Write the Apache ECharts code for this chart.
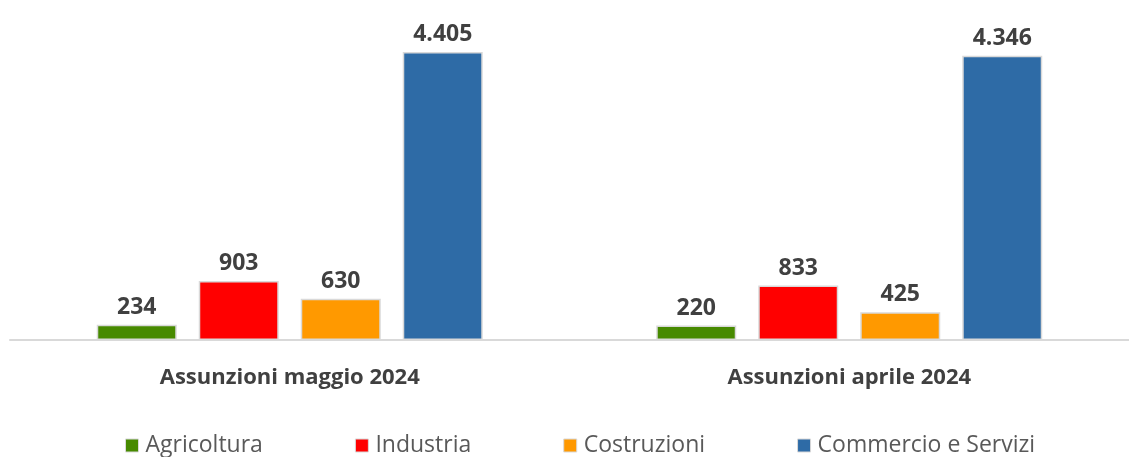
<!DOCTYPE html>
<html>
<head>
<meta charset="utf-8">
<script src="https://cdn.jsdelivr.net/npm/echarts@6/dist/echarts.min.js"></script>
<style>
  html, body { margin: 0; padding: 0; background: #fff; }
  #chart { width: 1129px; height: 457px; }
</style>
</head>
<body>
<div id="chart"></div>
<script>
// categorie (periodi)
const categories = ['Assunzioni maggio 2024', 'Assunzioni aprile 2024']
// settori
const agricoltura = [234, 220]
const industria = [903, 833]
const costruzioni = [630, 425]
const commercio = [4405, 4346]

const chart = echarts.init(document.getElementById('chart'))

// formato italiano: 4.405
function fmt(v) {
  return String(v).replace(/\B(?=(\d{3})+(?!\d))/g, '.')
}

function makeSeries(name, data, color) {
  return {
    name: name,
    type: 'bar',
    data: data,
    barWidth: 80,
    barGap: '27.5%',
    itemStyle: {
      color: color,
      borderColor: '#d9d9d9',
      borderWidth: 1.5
    },
    label: {
      show: true,
      position: 'top',
      distance: 6,
      color: '#404040',
      fontSize: 23,
      fontWeight: 'bold',
      fontFamily: 'Open Sans',
      formatter: p => fmt(p.value)
    }
  }
}

const option = {
  animation: false,
  textStyle: { fontFamily: 'Open Sans' },
  legend: {
    top: 429,
    left: 120,
    itemWidth: 13,
    itemHeight: 13,
    itemGap: 92,
    icon: 'rect',
    itemStyle: { borderColor: '#d9d9d9', borderWidth: 1 },
    textStyle: { color: '#595959', fontSize: 23, fontFamily: 'Open Sans', padding: [0, 0, 0, 2] },
    data: ['Agricoltura', 'Industria', 'Costruzioni', 'Commercio e Servizi']
  },
  grid: {
    left: 10,
    top: 52,
    width: 1128,
    height: 288
  },
  xAxis: {
    type: 'category',
    data: categories,
    axisLine: { show: true, lineStyle: { color: '#d9d9d9', width: 2 } },
    axisTick: { show: false },
    axisLabel: {
      color: '#404040',
      fontSize: 22,
      fontWeight: 'bold',
      fontFamily: 'Open Sans',
      margin: 27
    }
  },
  yAxis: {
    type: 'value',
    min: 0,
    max: 4405,
    show: false,
    splitLine: { show: false }
  },
  series: [
    makeSeries('Agricoltura', agricoltura, '#478a00'),
    makeSeries('Industria', industria, '#ff0000'),
    makeSeries('Costruzioni', costruzioni, '#ff9900'),
    makeSeries('Commercio e Servizi', commercio, '#2e6ba6')
  ]
}

chart.setOption(option)
window.addEventListener('resize', () => { chart.resize() })
</script>
</body>
</html>
